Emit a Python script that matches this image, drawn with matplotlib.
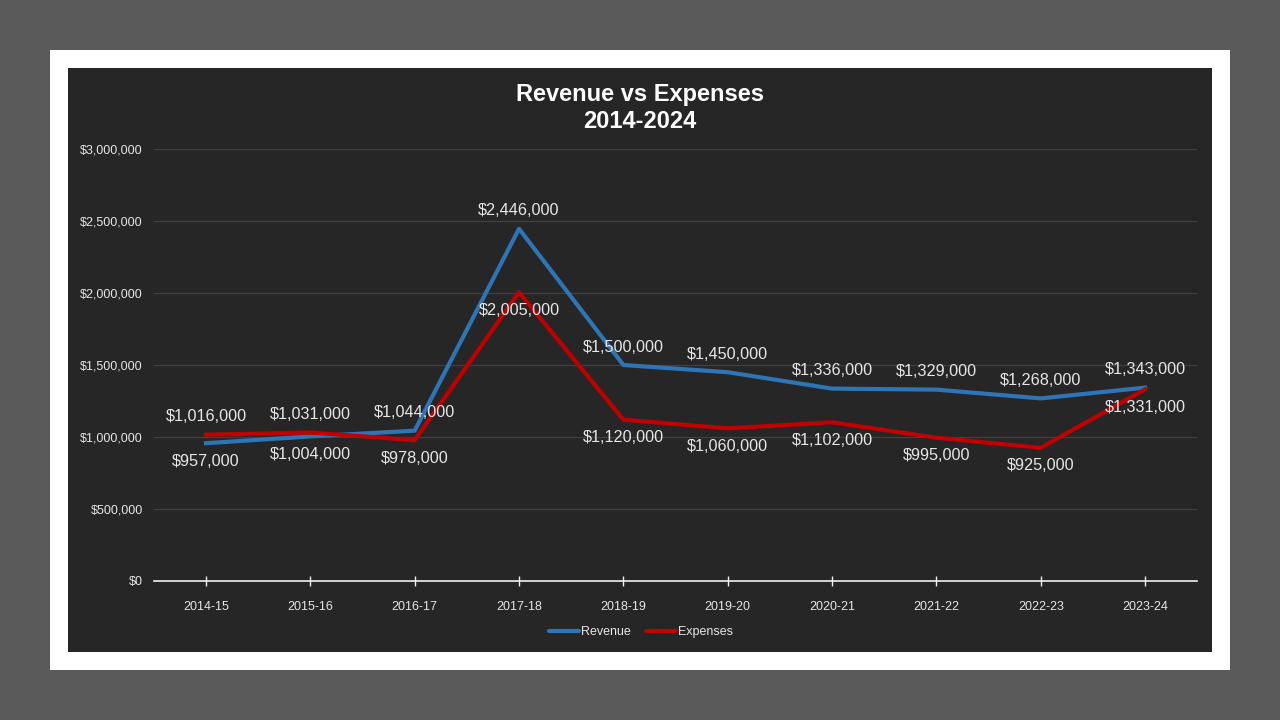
import matplotlib
matplotlib.use("Agg")
import matplotlib.pyplot as plt
from matplotlib.patches import Rectangle
from matplotlib.ticker import FuncFormatter

# ── Data ──────────────────────────────────────────────────────────────────────
years = ["2014-15", "2015-16", "2016-17", "2017-18", "2018-19",
         "2019-20", "2020-21", "2021-22", "2022-23", "2023-24"]
revenue = [957000, 1004000, 1044000, 2446000, 1500000,
           1450000, 1336000, 1329000, 1268000, 1343000]
expenses = [1016000, 1031000, 978000, 2005000, 1120000,
            1060000, 1102000, 995000, 925000, 1331000]
# label placement: +1 above point, -1 below
rev_side = [-1, -1, 1, 1, 1, 1, 1, 1, 1, 1]
exp_side = [1, 1, -1, -1, -1, -1, -1, -1, -1, -1]

BLUE = "#2e75b6"
RED = "#c00000"
TXT = "#e6e6e6"
PANEL = "#262626"

plt.rcParams["font.family"] = ["Liberation Sans", "DejaVu Sans"]

fig = plt.figure(figsize=(12.8, 7.2), dpi=100)
fig.patch.set_facecolor("#5a5a5a")
W, H = 1280, 720
fig.patches.append(Rectangle((50 / W, 50 / H), 1180 / W, 620 / H,
                             transform=fig.transFigure, facecolor="white",
                             edgecolor="none", zorder=-2))
fig.patches.append(Rectangle((68 / W, 68 / H), 1144 / W, 584 / H,
                             transform=fig.transFigure, facecolor=PANEL,
                             edgecolor="none", zorder=-1))

ax = fig.add_axes([153.8 / W, (H - 581) / H, 1043.5 / W, 432 / H])
ax.set_facecolor("none")
x = list(range(len(years)))

ax.plot(x, revenue, color=BLUE, lw=3, label="Revenue", zorder=3,
        solid_joinstyle="round")
ax.plot(x, expenses, color=RED, lw=3, label="Expenses", zorder=4,
        solid_joinstyle="round")

for xi, v, s in zip(x, revenue, rev_side):
    ax.annotate(f"${v:,.0f}", (xi, v), xytext=(0, 18 * s), textcoords="offset pixels",
                ha="center", va="center", color=TXT, fontsize=11.7, zorder=5)
for xi, v, s in zip(x, expenses, exp_side):
    ax.annotate(f"${v:,.0f}", (xi, v), xytext=(0, 18 * s), textcoords="offset pixels",
                ha="center", va="center", color=TXT, fontsize=11.7, zorder=5)

ax.set_xlim(-0.5, len(years) - 0.5)
ax.set_ylim(0, 3000000)
ax.set_yticks(range(0, 3000001, 500000))
ax.yaxis.set_major_formatter(FuncFormatter(lambda v, p: f"${v:,.0f}"))
ax.set_xticks(x)
ax.set_xticklabels(years)
ax.grid(axis="y", color="#404040", lw=0.9)
ax.set_axisbelow(True)
for side in ["top", "right", "left"]:
    ax.spines[side].set_visible(False)
ax.spines["bottom"].set_color("#f0f0f0")
ax.spines["bottom"].set_linewidth(1.2)
ax.tick_params(axis="y", length=0, pad=8, labelsize=9, labelcolor=TXT)
ax.tick_params(axis="x", direction="inout", length=7, width=1, color="#f0f0f0",
               pad=11, labelsize=9, labelcolor=TXT)

fig.text(640 / W, 1 - 108 / H, "Revenue vs Expenses\n2014-2024", ha="center",
         va="center", color="white", fontsize=17, fontweight="bold",
         linespacing=1.2)

leg = fig.legend(loc="center", bbox_to_anchor=(641 / W, 1 - 632 / H), ncol=2,
                 frameon=False, fontsize=9, labelcolor=TXT, handlelength=2.4,
                 handletextpad=0.2, columnspacing=1.2)
for h in leg.get_lines():
    h.set_solid_capstyle("round")
    h.set_linewidth(3)

fig.savefig("out.png", dpi=100, facecolor=fig.get_facecolor())
